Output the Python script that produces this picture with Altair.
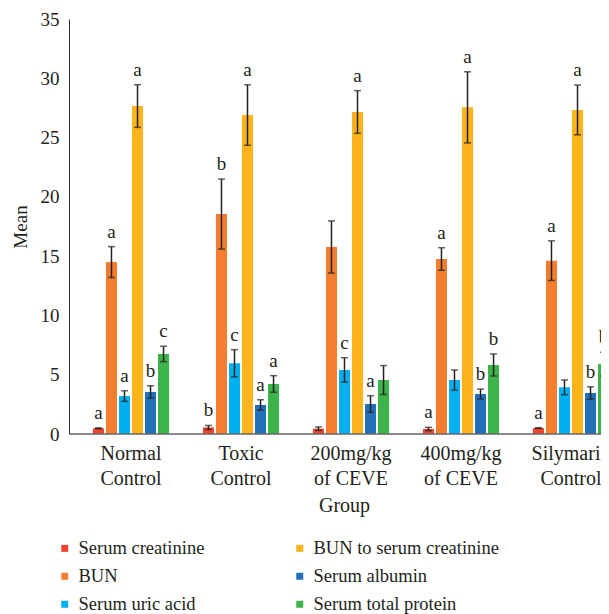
import altair as alt
import pandas as pd

groups = ["Normal|Control", "Toxic|Control", "200mg/kg|of CEVE", "400mg/kg|of CEVE", "Silymarin|Control"]
series = ["Serum creatinine", "BUN", "Serum uric acid", "BUN to serum creatinine", "Serum albumin", "Serum total protein"]
colors = ["#EE4430", "#F47D30", "#00B0F0", "#FDB41C", "#2270BA", "#3CB44A"]

creatinine = [0.48, 0.55, 0.45, 0.42, 0.50]
creatinine_sd = [0.04, 0.17, 0.15, 0.14, 0.03]
bun = [14.5, 18.55, 15.77, 14.76, 14.62]
bun_sd = [1.3, 2.95, 2.2, 0.95, 1.67]
uric = [3.2, 5.96, 5.4, 4.55, 3.94]
uric_sd = [0.45, 1.15, 1.03, 0.85, 0.62]
ratio = [27.66, 26.9, 27.16, 27.55, 27.33]
ratio_sd = [1.8, 2.55, 1.8, 3.0, 2.1]
albumin = [3.54, 2.45, 2.53, 3.37, 3.46]
albumin_sd = [0.53, 0.44, 0.7, 0.42, 0.52]
protein = [6.75, 4.22, 4.55, 5.82, 5.9]
protein_sd = [0.65, 0.7, 1.22, 0.93, 1.0]

creatinine_let = ["a", "b", "", "a", "a"]
bun_let = ["a", "b", "", "a", "a"]
uric_let = ["a", "c", "c", "", ""]
ratio_let = ["a", "a", "a", "a", "a"]
albumin_let = ["b", "a", "a", "b", "b"]
protein_let = ["c", "a", "", "b", "b"]

table = {
    "Serum creatinine": (creatinine, creatinine_sd, creatinine_let),
    "BUN": (bun, bun_sd, bun_let),
    "Serum uric acid": (uric, uric_sd, uric_let),
    "BUN to serum creatinine": (ratio, ratio_sd, ratio_let),
    "Serum albumin": (albumin, albumin_sd, albumin_let),
    "Serum total protein": (protein, protein_sd, protein_let),
}

rows = []
for s in series:
    m, sd, let = table[s]
    for i, g in enumerate(groups):
        rows.append({"group": g, "series": s, "mean": m[i],
                     "lo": m[i] - sd[i], "hi": m[i] + sd[i], "letter": let[i]})
df = pd.DataFrame(rows)

FONT = "Liberation Serif"
TXT = "#231F20"

x = alt.X("group:N", sort=groups,
          scale=alt.Scale(range=[7, 557], paddingInner=0.29, paddingOuter=0.145),
          axis=alt.Axis(title="Group", labelExpr="split(datum.label, '|')",
                        labelAngle=0, domain=False, ticks=False, labelPadding=9,
                        labelLineHeight=25, labelFontSize=20, titleFontSize=20,
                        titlePadding=7, titleX=275))
xo = alt.XOffset("series:N", sort=series,
                 scale=alt.Scale(paddingInner=0.15, paddingOuter=0.075))

base = alt.Chart(df)

bars = base.mark_bar().encode(
    x=x, xOffset=xo,
    y=alt.Y("mean:Q", scale=alt.Scale(domain=[0, 35]),
            axis=alt.Axis(title="Mean", values=[0, 5, 10, 15, 20, 25, 30, 35],
                          grid=False, ticks=False, domainColor="#333333",
                          labelFontSize=19, titleFontSize=19,
                          labelPadding=10, titlePadding=10)),
    color=alt.Color("series:N",
                    scale=alt.Scale(domain=series, range=colors),
                    legend=alt.Legend(orient="none", legendX=-13.5, legendY=520, columns=2,
                                      title=None, symbolType="square", symbolSize=49,
                                      symbolStrokeWidth=0, labelFont=FONT, labelFontSize=18.5,
                                      labelColor=TXT, columnPadding=86, rowPadding=9,
                                      labelOffset=4.5, labelLimit=300)),
)

err = base.mark_rule(color="#222222", strokeWidth=1.5).encode(
    x=x, xOffset=xo, y="lo:Q", y2="hi:Q")
cap_hi = base.mark_tick(color="#222222", thickness=1.5, size=7).encode(
    x=x, xOffset=xo, y="hi:Q")
cap_lo = base.mark_tick(color="#222222", thickness=1.5, size=7).encode(
    x=x, xOffset=xo, y="lo:Q")
letters = base.transform_filter("datum.letter != ''").mark_text(
    dy=-9, baseline="alphabetic", font=FONT, fontSize=19, color=TXT).encode(
    x=x, xOffset=xo, y="hi:Q", text="letter:N")

baseline_df = pd.DataFrame({"v": [0]})
xline = alt.Chart(baseline_df).mark_rule(color="#666666", strokeWidth=1.5).encode(
    y=alt.Y("v:Q"), x=alt.value(0), x2=alt.value(560))

chart = alt.layer(bars, err, cap_hi, cap_lo, letters, xline).properties(
    width=532, height=415,
    autosize=alt.AutoSizeParams(type="none"),
    padding={"left": 61, "top": 11, "right": 0, "bottom": 180},
).configure_view(stroke=None).configure_axis(
    labelFont=FONT, titleFont=FONT,
    labelColor=TXT, titleColor=TXT, titleFontWeight="normal",
)

chart.save("out.html", embed_options={"renderer": "svg", "actions": False})
